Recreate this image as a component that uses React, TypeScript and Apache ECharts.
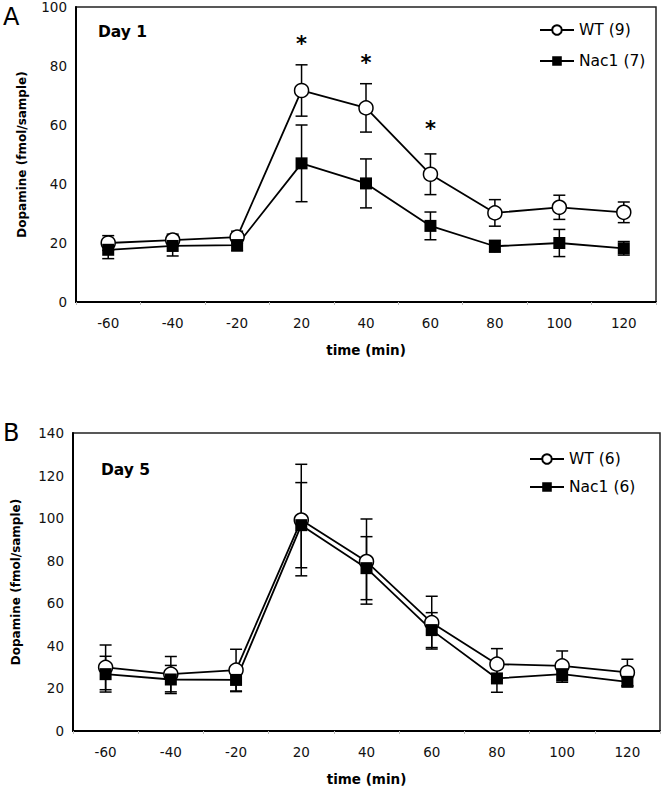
import React, { useEffect, useRef } from "react";
import * as echarts from "echarts";

const timeLabels = ["-60", "-40", "-20", "20", "40", "60", "80", "100", "120"];

// Panel A (Day 1)
const wtDay1 = [20.0, 21.0, 22.0, 71.7, 65.8, 43.3, 30.2, 32.1, 30.4];
const wtDay1Err = [2.5, 2.0, 2.0, 8.7, 8.2, 6.9, 4.5, 4.1, 3.5];
const nacDay1 = [17.7, 19.0, 19.3, 47.0, 40.2, 25.8, 18.9, 20.0, 18.2];
const nacDay1Err = [3.0, 3.4, 2.0, 13.0, 8.3, 4.7, 2.0, 4.6, 2.3];
const starDay1 = [null, null, null, 87.3, 80.9, 58.8, null, null, null];

// Panel B (Day 5)
const wtDay5 = [29.9, 26.7, 28.6, 99.1, 79.6, 50.9, 31.4, 30.6, 27.5];
const wtDay5Err = [10.5, 8.3, 9.8, 26.2, 20.0, 12.4, 7.3, 7.0, 6.2];
const nacDay5 = [26.7, 24.2, 24.0, 96.7, 76.5, 47.4, 24.7, 26.7, 23.1];
const nacDay5Err = [8.4, 6.6, 5.5, 20.0, 14.8, 8.2, 6.5, 3.8, 2.0];

const FONT = "DejaVu Sans, Verdana, sans-serif";

function errSeries(values: number[], errs: number[], idx: number, name: string) {
  const data = values.map((v, i) => [i, v - errs[i], v + errs[i]]);
  return {
    type: "custom",
    name,
    xAxisIndex: idx,
    yAxisIndex: idx,
    z: 1,
    silent: true,
    renderItem: (params: any, api: any) => {
      const x = api.value(0);
      const lo = api.coord([x, api.value(1)]);
      const hi = api.coord([x, api.value(2)]);
      const hw = 6;
      const st = { stroke: "#000", lineWidth: 1.5 };
      return {
        type: "group",
        children: [
          { type: "line", shape: { x1: lo[0], y1: lo[1], x2: hi[0], y2: hi[1] }, style: st },
          { type: "line", shape: { x1: hi[0] - hw, y1: hi[1], x2: hi[0] + hw, y2: hi[1] }, style: st },
          { type: "line", shape: { x1: lo[0] - hw, y1: lo[1], x2: lo[0] + hw, y2: lo[1] }, style: st },
        ],
      };
    },
    encode: { x: 0, y: [1, 2] },
    data,
  };
}

function starSeries(values: (number | null)[], idx: number) {
  const data = values
    .map((v, i) => (v == null ? null : [i, v]))
    .filter((d) => d != null);
  return {
    type: "custom",
    name: "sig" + idx,
    xAxisIndex: idx,
    yAxisIndex: idx,
    silent: true,
    renderItem: (params: any, api: any) => {
      const p = api.coord([api.value(0), api.value(1)]);
      return {
        type: "text",
        x: p[0],
        y: p[1],
        style: {
          text: "*",
          fontSize: 21,
          fontWeight: "bold",
          fontFamily: FONT,
          fill: "#000",
          align: "center",
          verticalAlign: "middle",
        },
      };
    },
    encode: { x: 0, y: 1 },
    data,
  };
}

function lineSeries(name: string, values: number[], idx: number, wt: boolean) {
  return {
    type: "line",
    name,
    xAxisIndex: idx,
    yAxisIndex: idx,
    z: 3,
    data: values,
    symbol: wt ? "circle" : "rect",
    symbolSize: wt ? 14 : 12,
    showSymbol: true,
    lineStyle: { color: "#000", width: 1.8 },
    itemStyle: wt
      ? { color: "#fff", borderColor: "#000", borderWidth: 1.5 }
      : { color: "#000", borderColor: "#000", borderWidth: 0 },
  };
}

function xAxisCfg(idx: number) {
  return {
    type: "category",
    gridIndex: idx,
    data: timeLabels,
    name: "time (min)",
    nameLocation: "middle",
    nameGap: 41,
    nameTextStyle: { fontFamily: FONT, fontWeight: "bold", fontSize: 13.5, color: "#000" },
    axisLine: { show: true, lineStyle: { color: "#000", width: 2 } },
    axisTick: { show: true, length: 3, lineStyle: { color: "#bbb" } },
    axisLabel: { fontFamily: FONT, fontSize: 13.5, color: "#111", margin: 14 },
    splitLine: { show: false },
  };
}

function yAxisCfg(idx: number, max: number, gap: number) {
  return {
    type: "value",
    gridIndex: idx,
    min: 0,
    max,
    interval: 20,
    name: "Dopamine (fmol/sample)",
    nameLocation: "middle",
    nameGap: gap,
    nameTextStyle: { fontFamily: FONT, fontWeight: "bold", fontSize: 12, color: "#000" },
    axisLine: { show: true, lineStyle: { color: "#000", width: 2 } },
    axisTick: { show: false },
    axisLabel: { fontFamily: FONT, fontSize: 13.5, color: "#111", margin: 9 },
    splitLine: { show: false },
  };
}

export default function App() {
  const ref = useRef<HTMLDivElement>(null);
  useEffect(() => {
    if (!ref.current) return;
    const chart = echarts.init(ref.current, null, { renderer: "svg" });
    const legendText = { fontFamily: FONT, fontSize: 15.5, color: "#000" };
    chart.setOption({
      animation: false,
      backgroundColor: "#fff",
      grid: [
        { left: 76, top: 5, width: 580, height: 297, show: true, borderColor: "#222", borderWidth: 1.5, backgroundColor: "transparent" },
        { left: 73, top: 433, width: 587, height: 300, show: true, borderColor: "#222", borderWidth: 1.5, backgroundColor: "transparent" },
      ],
      xAxis: [xAxisCfg(0), xAxisCfg(1)],
      yAxis: [yAxisCfg(0, 100, 48), yAxisCfg(1, 140, 51)],
      legend: [
        {
          data: ["WT (9)", "Nac1 (7)"],
          orient: "vertical",
          left: 534,
          top: 17,
          itemWidth: 34,
          itemHeight: 12,
          itemGap: 15,
          textStyle: legendText,
        },
        {
          data: ["WT (6)", "Nac1 (6)"],
          orient: "vertical",
          left: 524,
          top: 446,
          itemWidth: 34,
          itemHeight: 12,
          itemGap: 12,
          textStyle: legendText,
        },
      ],
      graphic: [
        { type: "text", left: 3, top: 5, style: { text: "A", fontFamily: FONT, fontSize: 24, fill: "#000" } },
        { type: "text", left: 3, top: 421, style: { text: "B", fontFamily: FONT, fontSize: 24, fill: "#000" } },
        { type: "text", left: 98, top: 24, style: { text: "Day 1", fontFamily: FONT, fontSize: 15.5, fontWeight: "bold", fill: "#000" } },
        { type: "text", left: 101, top: 462, style: { text: "Day 5", fontFamily: FONT, fontSize: 15.5, fontWeight: "bold", fill: "#000" } },
      ],
      series: [
        errSeries(wtDay1, wtDay1Err, 0, "errWT1"),
        errSeries(nacDay1, nacDay1Err, 0, "errNac1"),
        lineSeries("WT (9)", wtDay1, 0, true),
        lineSeries("Nac1 (7)", nacDay1, 0, false),
        starSeries(starDay1, 0),
        errSeries(wtDay5, wtDay5Err, 1, "errWT5"),
        errSeries(nacDay5, nacDay5Err, 1, "errNac5"),
        lineSeries("WT (6)", wtDay5, 1, true),
        lineSeries("Nac1 (6)", nacDay5, 1, false),
      ],
    });
    return () => chart.dispose();
  }, []);
  return (
    <div
      ref={ref}
      style={{ position: "fixed", left: 0, top: 0, width: 662, height: 787, background: "#fff" }}
    />
  );
}
